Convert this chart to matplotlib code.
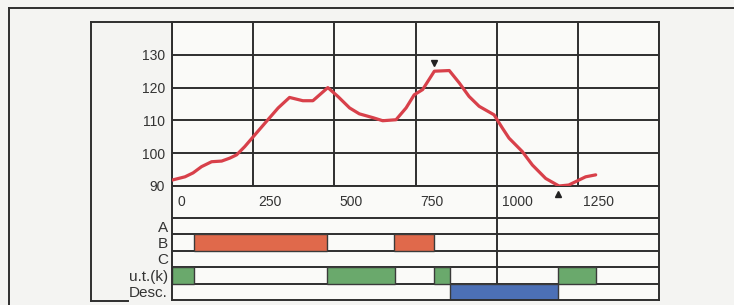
import numpy as np
import matplotlib.pyplot as plt
from matplotlib.lines import Line2D
from matplotlib.transforms import ScaledTranslation

plt.rcParams['font.family'] = ['Liberation Sans', 'DejaVu Sans']

# profile curve
dist = [0, 40, 65, 91, 122, 153, 178, 199, 224, 250, 291, 327, 362, 403, 434, 480,
        511, 547, 577, 620, 649, 690, 721, 746, 772, 808, 854, 885, 915, 946, 992,
        1018, 1038, 1079, 1110, 1151, 1192, 1222, 1274, 1305]
value = [91.8, 92.8, 94, 95.9, 97.4, 97.6, 98.5, 99.5, 102, 105, 109.7, 113.8, 117,
         116, 116, 120, 117.3, 113.8, 112, 110.8, 109.9, 110.2, 113.8, 117.8, 119.4,
         125, 125.2, 121.4, 117.3, 114.3, 111.7, 107.6, 104.6, 100.5, 96.4, 92.3, 90,
         90.3, 92.8, 93.4]
peak = (808, 127.6)
trough = (1189, 87.6)

x_ticks = [0, 250, 500, 750, 1000, 1250]
y_ticks = [90, 100, 110, 120, 130]

rows = ["A", "B", "C", "u.t.(k)", "Desc."]
segments_b = [(68, 476), (685, 808)]
segments_ut = [(0, 68), (476, 688), (808, 857), (1189, 1305)]
segments_desc = [(857, 1189)]

W, H = 734, 305
fig = plt.figure(figsize=(W / 100, H / 100), dpi=100)
fig.patch.set_facecolor('#f4f4f2')

def box(x0, y0, x1, y1):
    return [x0 / W, 1 - y1 / H, (x1 - x0) / W, (y1 - y0) / H]

ink = '#2e2e2e'
lw = 1.4

# outer frame and inner box lines
for xs, ys in [([9, 9], [8, 305]), ([9, 734], [8, 8]),
               ([91, 91], [22, 301]), ([91, 659], [22, 22]), ([91, 128], [301, 301])]:
    fig.add_artist(Line2D([x / W for x in xs], [1 - y / H for y in ys],
                          color=ink, lw=lw, transform=fig.transFigure))

# main chart
ax = fig.add_axes(box(172, 22, 659, 186))
ax.set_zorder(3)
ax.set_facecolor('#fafaf8')
ax.plot(dist, value, color='#d8404a', lw=2.3, solid_capstyle='round', zorder=3)
ax.plot(*peak, marker='v', color='#222222', ms=5, clip_on=False, zorder=4)
ax.plot(*trough, marker='^', color='#222222', ms=5, clip_on=False, zorder=4)
ax.set_xlim(0, 1500)
ax.set_ylim(90, 140)
ax.set_xticks([0, 250, 500, 750, 1000, 1250, 1500])
ax.set_yticks([90, 100, 110, 120, 130, 140])
ax.grid(True, color=ink, lw=lw)
ax.set_xticklabels([])
ax.set_yticklabels([str(v) if v in y_ticks else '' for v in [90, 100, 110, 120, 130, 140]])
ax.tick_params(length=0, labelsize=10, labelcolor='#333333', pad=5)
for s in ax.spines.values():
    s.set_color(ink)
    s.set_linewidth(lw)

# lower panel: tick label strip + status rows
strip = 1.95
low = fig.add_axes(box(172, 186, 659, 300))
low.set_facecolor('#fafaf8')
low.set_xlim(0, 1500)
low.set_ylim(strip + len(rows), 0)
low.set_xticks([])
low.set_yticks([strip + i + 0.5 for i in range(len(rows))])
low.set_yticklabels(rows)
for lab in low.get_yticklabels():
    lab.set_transform(lab.get_transform() + ScaledTranslation(0, -2 / 100, fig.dpi_scale_trans))
low.tick_params(length=0, labelsize=11, labelcolor='#333333', pad=3)
for s in low.spines.values():
    s.set_color(ink)
    s.set_linewidth(lw)
low.spines['top'].set_visible(False)
low.axvline(1000, color=ink, lw=lw, zorder=1)
for i in range(len(rows)):
    low.axhline(strip + i, color=ink, lw=lw, zorder=1)

for t in x_ticks:
    low.text(t, strip / 2, str(t), fontsize=10, color='#333333', ha='left', va='center',
             transform=low.transData + ScaledTranslation(5 / 100, 0, fig.dpi_scale_trans))

def draw_row(idx, segs, color):
    for a, b in segs:
        low.barh(strip + idx + 0.5, b - a, left=a, height=1.0, color=color,
                 edgecolor='#3a3a3a', lw=1.0, zorder=2)

draw_row(1, segments_b, '#e0694b')
draw_row(3, segments_ut, '#6aa96c')
draw_row(4, segments_desc, '#4c70b6')

fig.savefig('out.png', dpi=100, facecolor=fig.get_facecolor())
